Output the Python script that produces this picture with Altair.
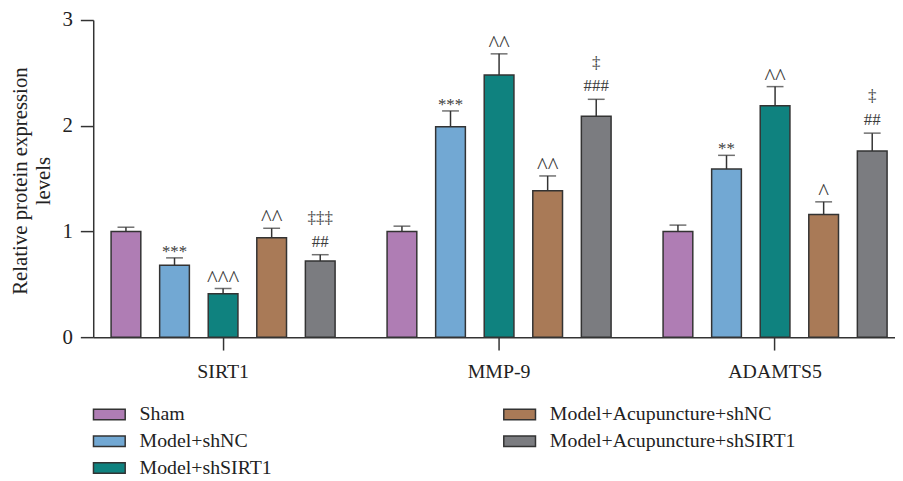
import altair as alt
import pandas as pd

groups = ["SIRT1", "MMP-9", "ADAMTS5"]
conds = ["Sham", "Model+shNC", "Model+shSIRT1",
         "Model+Acupuncture+shNC", "Model+Acupuncture+shSIRT1"]
colors = ["#AF7DB4", "#72A8D3", "#0F827F", "#A97A57", "#7B7C80"]

# bar heights per group (in cond order)
sirt1_vals = [1.00, 0.68, 0.41, 0.94, 0.72]
mmp9_vals = [1.00, 1.99, 2.48, 1.385, 2.09]
adamts5_vals = [1.00, 1.59, 2.19, 1.16, 1.76]
# error (upper SD)
sirt1_err = [0.04, 0.07, 0.05, 0.09, 0.06]
mmp9_err = [0.05, 0.15, 0.20, 0.14, 0.16]
adamts5_err = [0.06, 0.13, 0.18, 0.12, 0.17]
# significance marks
sirt1_sig = ["", "***", "^^^", "^^", ""]
mmp9_sig = ["", "***", "^^", "^^", ""]
adamts5_sig = ["", "**", "^^", "^", ""]
sirt1_hash = ["", "", "", "", "##"]
mmp9_hash = ["", "", "", "", "###"]
adamts5_hash = ["", "", "", "", "##"]
sirt1_dag = ["", "", "", "", "‡‡‡"]
mmp9_dag = ["", "", "", "", "‡"]
adamts5_dag = ["", "", "", "", "‡"]

rows = []
for g, vals, errs, sig, hsh, dag in [
    ("SIRT1", sirt1_vals, sirt1_err, sirt1_sig, sirt1_hash, sirt1_dag),
    ("MMP-9", mmp9_vals, mmp9_err, mmp9_sig, mmp9_hash, mmp9_dag),
    ("ADAMTS5", adamts5_vals, adamts5_err, adamts5_sig, adamts5_hash, adamts5_dag),
]:
    for c, v, e, s, h, d in zip(conds, vals, errs, sig, hsh, dag):
        rows.append(dict(group=g, cond=c, value=v, top=v + e, sig=s, hsh=h, dag=d))
df = pd.DataFrame(rows)

FONT = "Liberation Serif"
INK = "#333333"
TXT = "#222222"
ANN = "#3c3c3c"

base = alt.Chart(df).encode(
    x=alt.X("group:N", sort=groups,
            scale=alt.Scale(paddingInner=0.131, paddingOuter=0.018, align=1),
            axis=alt.Axis(title=None, labelAngle=0, tickSize=13, labelPadding=12,
                          domainColor=INK, tickColor=INK, domainWidth=1.5, tickWidth=1.5,
                          labelFont=FONT, labelFontSize=20, labelColor=TXT)),
    xOffset=alt.XOffset("cond:N", sort=conds,
                        scale=alt.Scale(paddingInner=0.388, paddingOuter=0.163)),
)

yenc = alt.Y("value:Q",
             scale=alt.Scale(domain=[0, 3], nice=False),
             axis=alt.Axis(values=[0, 1, 2, 3], format="d", grid=False, tickSize=13,
                           labelPadding=8,
                           domainColor=INK, tickColor=INK, domainWidth=1.5, tickWidth=1.5,
                           labelFont=FONT, labelFontSize=21, labelColor=TXT,
                           title=["Relative protein expression", "levels"],
                           titleFont=FONT, titleFontSize=21, titleFontWeight="normal",
                           titleColor=TXT, titleAngle=270, titleBaseline="top",
                           titleAlign="center", titleX=-84, titleY=162, titleLineHeight=23))

bars = base.mark_bar(stroke=INK, strokeWidth=1.5).encode(
    y=yenc,
    fill=alt.Fill("cond:N",
                  scale=alt.Scale(domain=conds, range=colors),
                  legend=alt.Legend(title=None, orient="none", legendX=-1, legendY=388,
                                    columns=2, columnPadding=230, rowPadding=7,
                                    symbolType="M-2,-0.66H2V0.66H-2Z", symbolSize=256,
                                    symbolOffset=7.25, symbolStrokeColor=INK,
                                    symbolStrokeWidth=1.5, symbolOpacity=1,
                                    labelOffset=20.5, labelFont=FONT, labelFontSize=20,
                                    labelColor=TXT, labelLimit=400, padding=0)),
)

rule = base.mark_rule(color=INK, strokeWidth=1.5).encode(
    y="value:Q", y2="top:Q")
cap = base.mark_tick(orient="horizontal", size=17, thickness=1.5, color=INK).encode(
    y="top:Q")
star_t = base.mark_text(font=FONT, fontSize=17, fill=ANN, baseline="alphabetic",
                        dy=-1).encode(y="top:Q", text="sig:N").transform_filter(
    "indexof(datum.sig, '*') >= 0")
caret_t = base.mark_text(font=FONT, fontSize=23, fill=ANN, baseline="alphabetic",
                         dy=-3).encode(y="top:Q", text="sig:N").transform_filter(
    "indexof(datum.sig, '^') >= 0")
hash_t = base.mark_text(font=FONT, fontSize=17, fill=ANN, baseline="alphabetic",
                        dy=-8).encode(y="top:Q", text="hsh:N")
dag_t = base.mark_text(font=FONT, fontSize=17, fill=ANN, baseline="alphabetic",
                       dy=-32).encode(y="top:Q", text="dag:N")

chart = alt.layer(bars, rule, cap, star_t, caret_t, hash_t, dag_t).properties(
    width=809, height=320,
    autosize=alt.AutoSizeParams(type="none"),
    padding={"left": 86, "top": 10, "right": 0, "bottom": 142},
    background="white",
).configure_view(stroke=None)

chart.save("out.html", embed_options={"renderer": "svg", "actions": False})
